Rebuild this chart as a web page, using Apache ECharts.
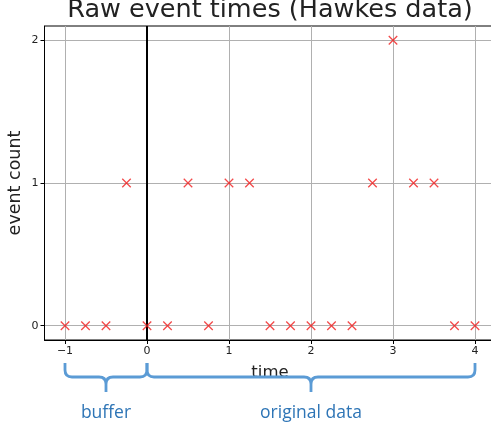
<!DOCTYPE html>
<html>
<head>
<meta charset="utf-8">
<script src="https://cdn.jsdelivr.net/npm/echarts@6/dist/echarts.min.js"></script>
<style>
  html, body { margin: 0; padding: 0; background: #fff; }
  #chart { width: 491px; height: 430px; }
</style>
</head>
<body>
<div id="chart"></div>
<script>
// event times (x) and counts (y)
const eventTimes = [-1, -0.75, -0.5, -0.25, 0, 0.25, 0.5, 0.75, 1, 1.25, 1.5, 1.75, 2, 2.25, 2.5, 2.75, 3, 3.25, 3.5, 3.75, 4];
const eventCounts = [0, 0, 0, 1, 0, 0, 1, 0, 1, 1, 0, 0, 0, 0, 0, 1, 2, 1, 1, 0, 0];
// tick positions
const xTicks = [-1, 0, 1, 2, 3, 4];
const yTicks = [0, 1, 2];
// brace spans below the axis
const braceStarts = [-1, 0];
const braceEnds = [0, 4];
const braceLabels = ['buffer', 'original data'];

const points = eventTimes.map((t, i) => [t, eventCounts[i]]);
const braces = braceStarts.map((s, i) => [s, braceEnds[i]]);

const chart = echarts.init(document.getElementById('chart'), null, { renderer: 'canvas' });

const tickFmt = v => String(v).replace('-', '\u2212');

function renderBrace(params, api) {
  const x0 = api.coord([api.value(0), -0.1])[0];
  const x1 = api.coord([api.value(1), -0.1])[0];
  const base = api.coord([api.value(0), -0.1])[1];
  const top = base + 23, h = base + 37, bot = base + 52, r = 7;
  const mid = (x0 + x1) / 2;
  const d =
    'M' + x0 + ',' + top + ' L' + x0 + ',' + (h - r) + ' Q' + x0 + ',' + h + ' ' + (x0 + r) + ',' + h +
    ' L' + (mid - r) + ',' + h + ' Q' + mid + ',' + h + ' ' + mid + ',' + (h + r) + ' L' + mid + ',' + bot +
    ' M' + mid + ',' + (h + r) + ' Q' + mid + ',' + h + ' ' + (mid + r) + ',' + h +
    ' L' + (x1 - r) + ',' + h + ' Q' + x1 + ',' + h + ' ' + x1 + ',' + (h - r) + ' L' + x1 + ',' + top;
  return {
    type: 'group',
    children: [
      {
        type: 'path',
        shape: { pathData: d },
        style: { fill: 'none', stroke: '#5b9bd5', lineWidth: 2.8 }
      },
      {
        type: 'text',
        x: mid,
        y: base + 73,
        style: {
          text: braceLabels[params.dataIndex],
          fill: '#2e75b6',
          font: '17.5px "Open Sans"',
          textAlign: 'center',
          textVerticalAlign: 'middle'
        }
      }
    ]
  };
}

const option = {
  backgroundColor: '#fff',
  animation: false,
  title: {
    text: 'Raw event times (Hawkes data)',
    left: 270,
    textAlign: 'center',
    top: -3,
    padding: 0,
    textStyle: { fontFamily: 'DejaVu Sans', fontSize: 25.5, fontWeight: 'normal', color: '#222' }
  },
  grid: {
    left: 44.5,
    top: 26,
    width: 451,
    height: 314,
    outerBoundsMode: 'none',
    containLabel: false,
    show: true,
    borderColor: '#000',
    borderWidth: 1,
    backgroundColor: '#fff'
  },
  xAxis: {
    type: 'value',
    min: -1.25,
    max: 4.25,
    name: 'time',
    nameLocation: 'middle',
    nameGap: 24,
    nameMoveOverlap: false,
    nameTextStyle: { fontFamily: 'DejaVu Sans', fontSize: 16.5, color: '#222' },
    axisLine: { onZero: false, lineStyle: { color: '#000' } },
    axisTick: { show: true, length: 4, customValues: xTicks, lineStyle: { color: '#000' } },
    axisLabel: { customValues: xTicks, formatter: tickFmt, fontFamily: 'DejaVu Sans', fontSize: 11, color: '#222', margin: 6 },
    splitLine: { show: true, customValues: xTicks, lineStyle: { color: '#b0b0b0', width: 1 } }
  },
  yAxis: {
    type: 'value',
    min: -0.1,
    max: 2.1,
    name: 'event count',
    nameLocation: 'middle',
    nameGap: 20,
    nameMoveOverlap: false,
    nameTextStyle: { fontFamily: 'DejaVu Sans', fontSize: 17.5, color: '#222' },
    axisLine: { show: true, onZero: false, lineStyle: { color: '#000' } },
    axisTick: { show: true, length: 4, customValues: yTicks, lineStyle: { color: '#000' } },
    axisLabel: { customValues: yTicks, formatter: tickFmt, fontFamily: 'DejaVu Sans', fontSize: 11, color: '#222', margin: 6 },
    splitLine: { show: true, customValues: yTicks, lineStyle: { color: '#b0b0b0', width: 1 } }
  },
  series: [
    {
      type: 'scatter',
      data: points,
      symbol: 'path://M0,0L10,10M10,0L0,10',
      symbolSize: 8.5,
      itemStyle: { color: 'none', borderColor: '#f01c1c', borderWidth: 1.3 },
      z: 5,
      markLine: {
        silent: true,
        symbol: 'none',
        label: { show: false },
        lineStyle: { color: '#000', width: 2, type: 'solid' },
        data: [{ xAxis: 0 }]
      }
    },
    {
      type: 'custom',
      data: braces,
      encode: { x: [0, 1] },
      clip: false,
      silent: true,
      renderItem: renderBrace
    }
  ]
};

chart.setOption(option);
</script>
</body>
</html>
